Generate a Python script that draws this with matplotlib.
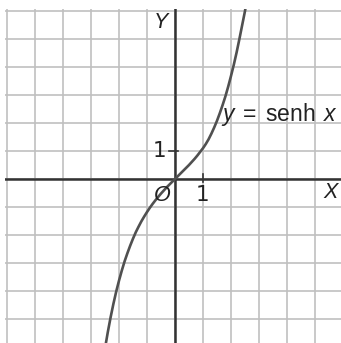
import matplotlib
matplotlib.use('Agg')
import matplotlib.pyplot as plt

curve_x = [-2.5, -2.4, -2.3, -2.2, -2.1, -2.0, -1.9, -1.8, -1.7, -1.6, -1.5, -1.4, -1.3,
           -1.2, -1.1, -1.0, -0.9, -0.8, -0.7, -0.6, -0.5, -0.4, -0.3, -0.2, -0.1,
           0.0, 0.1, 0.2, 0.3, 0.4, 0.5, 0.6, 0.7, 0.8, 0.9, 1.0, 1.1, 1.2, 1.3,
           1.4, 1.5, 1.6, 1.7, 1.8, 1.9, 2.0, 2.1, 2.2, 2.3, 2.4, 2.5, 2.6]
curve_y = [-6.05, -5.47, -4.94, -4.46, -4.02, -3.63, -3.27, -2.94, -2.65, -2.38, -2.13,
           -1.90, -1.70, -1.51, -1.34, -1.18, -1.03, -0.89, -0.76, -0.64, -0.52, -0.41,
           -0.30, -0.20, -0.10,
           0.00, 0.10, 0.20, 0.30, 0.40, 0.50, 0.61, 0.72, 0.84, 0.97, 1.10, 1.25, 1.42,
           1.62, 1.84, 2.08, 2.35, 2.64, 2.95, 3.30, 3.68, 4.08, 4.52, 5.00, 5.50, 6.00,
           6.60]

grid_vals = list(range(-6, 7))

plt.rcParams['font.family'] = ['Liberation Sans', 'DejaVu Sans']
plt.rcParams['mathtext.fontset'] = 'custom'
plt.rcParams['mathtext.rm'] = 'Liberation Sans'
plt.rcParams['mathtext.it'] = 'Liberation Sans:italic'

fig = plt.figure(figsize=(3.41, 3.43), dpi=100)
ax = fig.add_axes([5/341, 0, 336/341, 334/343])
ax.set_xlim(-170/28, 166/28)
ax.set_ylim(-164/28, 170/28)
ax.axis('off')

# cuadricula
for v in grid_vals:
    ax.axvline(v, color='#c0c0c0', lw=1.2, zorder=1)
    ax.axhline(v, color='#c0c0c0', lw=1.2, zorder=1)

# ejes
ax.axhline(0, color='#333333', lw=1.8, zorder=2)
ax.axvline(0, color='#333333', lw=1.8, zorder=2)
ax.plot([-0.2, 0.1], [1, 1], color='#333333', lw=1.2, zorder=2)
ax.plot([1, 1], [0.17, -0.12], color='#333333', lw=1.2, zorder=2)

# curva
ax.plot(curve_x, curve_y, color='#505050', lw=1.9, zorder=3, solid_joinstyle='round')

fs = 15.5
txt = '#222222'
ax.text(-0.5, 5.6, 'Y', fontsize=fs, style='italic', ha='center', va='center', color=txt)
ax.text(5.55, -0.5, 'X', fontsize=fs, style='italic', ha='center', va='center', color=txt)
ax.text(-0.45, -0.58, 'O', fontsize=fs, style='italic', ha='center', va='center', color=txt)
ax.text(1, -0.58, '1', fontsize=fs, ha='center', va='center', color=txt,
        family=['DejaVu Sans'])
ax.text(-0.3, 1.0, '1', fontsize=fs, ha='right', va='center', color=txt,
        family=['DejaVu Sans'])
ax.text(1.66, 2.29, r'$y\;=\;\mathrm{senh}\;\,x$', fontsize=16.5, ha='left', va='center',
        color=txt)

fig.savefig('out.png', dpi=100, facecolor='white')
